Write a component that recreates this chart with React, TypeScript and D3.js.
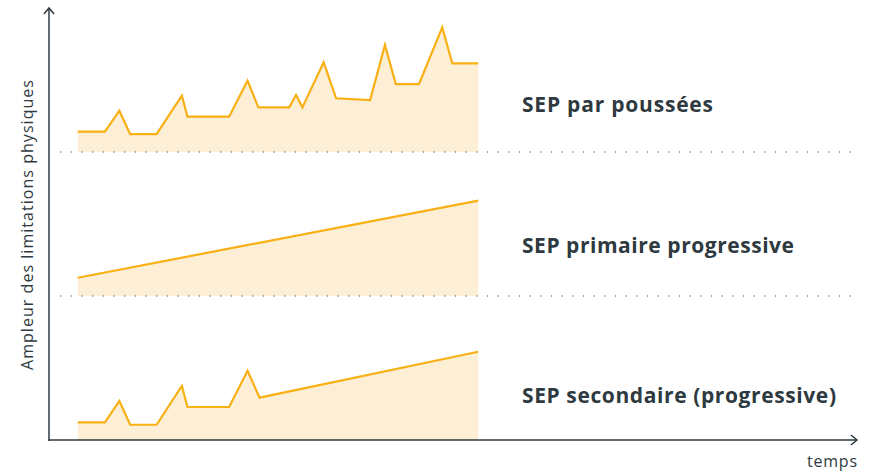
import React from "react";
import * as d3 from "d3";

// time (0..100) and amplitude (0..100 within each band)
const relapsingT = [0, 6.8, 10.4, 13.1, 19.7, 26.0, 27.4, 37.8, 42.4, 45.1, 52.8, 54.5, 56.1, 61.4, 64.5, 73.0, 76.7, 79.4, 85.2, 91.0, 93.5, 100];
const relapsingV = [14.1, 14.1, 28.7, 12.4, 12.4, 39.1, 24.5, 24.5, 49.5, 31.0, 31.0, 39.6, 31.0, 62.3, 37.3, 36.1, 74.3, 47.2, 47.2, 86.6, 61.6, 61.6];

const primaryT = [0, 100];
const primaryV = [12.7, 66.2];

const secondaryT = [0, 6.8, 10.4, 13.1, 19.7, 26.0, 27.4, 37.8, 42.4, 45.4, 100];
const secondaryV = [12.3, 12.3, 27.1, 10.6, 10.6, 37.5, 22.9, 22.9, 48.1, 29.4, 61.3];

const labels = ["SEP par poussées", "SEP primaire progressive", "SEP secondaire (progressive)"];
const yTitle = "Ampleur des limitations physiques";
const xTitle = "temps";

const ink = "#2e3a40";
const lineColor = "#f8b015";
const fillColor = "#fdefd6";
const font = "'Open Sans', sans-serif";

export default function App() {
  const width = 870;
  const height = 475;
  const axisX = 49;
  const axisY = 440;
  const bandH = 144;
  const baselines = [152, 296, 440];

  const x = d3.scaleLinear().domain([0, 100]).range([77.7, 478.3]);

  const series = [
    relapsingT.map((t, i) => [t, relapsingV[i]]),
    primaryT.map((t, i) => [t, primaryV[i]]),
    secondaryT.map((t, i) => [t, secondaryV[i]]),
  ];

  const labelY = [111.5, 253, 403];
  const labelW = [191, 272, 314];

  return (
    <svg width={width} height={height} style={{ position: "absolute", left: 0, top: 0 }}>
      {series.map((pts, k) => {
        const y = d3.scaleLinear().domain([0, 100]).range([baselines[k], baselines[k] - bandH]);
        const area = d3.area<number[]>().x(d => x(d[0])).y0(baselines[k]).y1(d => y(d[1]));
        const line = d3.line<number[]>().x(d => x(d[0])).y(d => y(d[1]));
        return (
          <g key={k}>
            <path d={area(pts) || ""} fill={fillColor} />
            <path d={line(pts) || ""} fill="none" stroke={lineColor} strokeWidth={2.2} />
            <text
              x={522}
              y={labelY[k]}
              fill={ink}
              fontFamily={font}
              fontWeight={700}
              fontSize={21}
              textLength={labelW[k]}
              lengthAdjust="spacing"
            >
              {labels[k]}
            </text>
          </g>
        );
      })}

      {baselines.slice(0, 2).map(b => (
        <line key={b} x1={60} x2={858} y1={b} y2={b} stroke="#7b8186" strokeWidth={1.5} strokeDasharray="1.2 9.47" />
      ))}

      {/* axes */}
      <line x1={axisX} x2={axisX} y1={axisY + 1} y2={8} stroke={ink} strokeWidth={1.5} />
      <path d={`M${axisX - 5},${14} L${axisX},${8} L${axisX + 5},${14}`} fill="none" stroke={ink} strokeWidth={1.5} />
      <line x1={axisX - 0.75} x2={857} y1={axisY} y2={axisY} stroke={ink} strokeWidth={1.5} />
      <path d={`M${851},${axisY - 5} L${857},${axisY} L${851},${axisY + 5}`} fill="none" stroke={ink} strokeWidth={1.5} />

      <text x={807} y={467} fill={ink} fontFamily={font} fontSize={16} textLength={50} lengthAdjust="spacing">
        {xTitle}
      </text>
      <text
        transform="translate(33,370) rotate(-90)"
        fill={ink}
        fontFamily={font}
        fontSize={16}
        textLength={290}
        lengthAdjust="spacing"
      >
        {yTitle}
      </text>
    </svg>
  );
}
